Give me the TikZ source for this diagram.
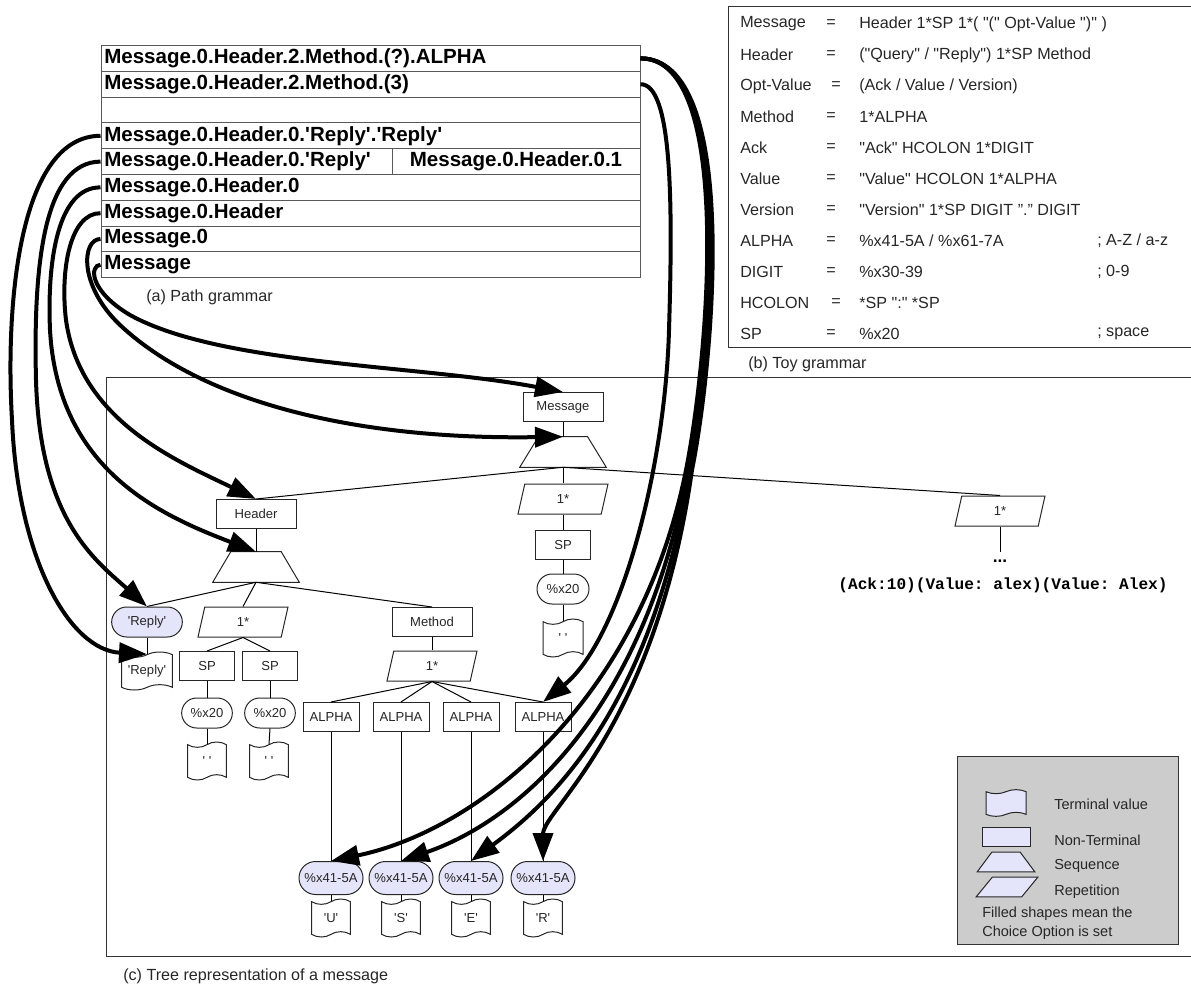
\documentclass[tikz,border=0pt]{standalone}
\usepackage{fontspec}
\setmainfont{Liberation Sans}[Ligatures=TeXOff]
\setmonofont{Liberation Mono}
\usetikzlibrary{shapes.geometric,shapes.misc,shapes.symbols,arrows.meta}
\definecolor{lav}{RGB}{228,228,250}
\definecolor{lgray}{RGB}{204,204,204}
\newcommand\trapz[3]{\draw[line width=0.75pt, draw=black!85, #3] (#1.south west) -- (#1.south east) -- ([xshift=-#2]#1.north east) -- ([xshift=#2]#1.north west) -- cycle;}
\newcommand\parlg[3]{\draw[line width=0.75pt, draw=black!85, #3] (#1.south west) -- ([xshift=-#2]#1.south east) -- (#1.north east) -- ([xshift=#2]#1.north west) -- cycle;}
\begin{document}
\begin{tikzpicture}[x=0.75pt,y=-0.75pt,
 tl/.style={draw=black, line width=0.75pt},
 tf/.style={font=\fontsize{9.8}{11}\selectfont, text=black!85},
 ntnode/.style={draw=black!85, line width=0.75pt, rectangle, tf, minimum width=#1, minimum height=21.75pt, inner sep=0pt},
 ntnode/.default=60pt,
 seqnode/.style={rectangle, minimum width=64.5pt, minimum height=22.5pt, inner sep=0pt},
 repnode/.style={draw=black!85, line width=0.75pt, trapezium, trapezium left angle=53, trapezium right angle=127, trapezium stretches body, minimum width=67.5pt, minimum height=22.5pt, inner sep=0pt, tf},
 pillnode/.style={draw=black!85, line width=0.75pt, rounded rectangle, tf, minimum width=#1, minimum height=22.5pt, inner sep=0pt},
 termnode/.style={draw=black!85, line width=0.75pt, tape, tape bend top=in and out, tape bend bottom=in and out, tape bend height=4pt, tf, minimum width=#1, minimum height=28.5pt, inner sep=0pt},
 bigarrow/.style={line width=3pt, -{Triangle[length=21pt,width=15pt]}},
 rowbox/.style={draw=gray!70!black, line width=0.75pt, minimum height=19.35pt, inner sep=0pt, minimum width=#1},
 rowtext/.style={font=\fontsize{15.4}{17}\selectfont\bfseries, inner sep=0pt, anchor=west},
 gtext/.style={font=\fontsize{12.1}{14}\selectfont, inner sep=0pt, anchor=west, text=black!85},
 legtext/.style={font=\fontsize{10.9}{13}\selectfont, inner sep=0pt, anchor=west, text=black!85},
]
\useasboundingbox (0,0) rectangle (1191,994);

% ---------- (a) path grammar ----------
\node[rowbox=404.25pt] (r1) at (370.5,58.4) {};
\node[rowbox=404.25pt] (r2) at (370.5,84.2) {};
\node[rowbox=404.25pt] (r3) at (370.5,110.0) {};
\node[rowbox=404.25pt] (r4) at (370.5,135.8) {};
\node[rowbox=218.25pt] (r5a) at (246.5,161.6) {};
\node[rowbox=186pt] (r5b) at (516,161.6) {};
\node[rowbox=404.25pt] (r6) at (370.5,187.4) {};
\node[rowbox=404.25pt] (r7) at (370.5,213.2) {};
\node[rowbox=404.25pt] (r8) at (370.5,239.0) {};
\node[rowbox=404.25pt] (r9) at (370.5,264.8) {};
\node[rowtext] (t1) at (104,58.4) {Message.0.Header.2.Method.(?).ALPHA};
\node[rowtext] (t2) at (104,84.2) {Message.0.Header.2.Method.(3)};
\node[rowtext] (t4) at (104,135.8) {Message.0.Header.0.'Reply'.'Reply'};
\node[rowtext] (t5a) at (104,161.6) {Message.0.Header.0.'Reply'};
\node[rowtext, anchor=center] (t5b) at (516,161.6) {Message.0.Header.0.1};
\node[rowtext] (t6) at (104,187.4) {Message.0.Header.0};
\node[rowtext] (t7) at (104,213.2) {Message.0.Header};
\node[rowtext] (t8) at (104,239.0) {Message.0};
\node[rowtext] (t9) at (104,264.8) {Message};
\node[gtext] (capa) at (146,297) {(a) Path grammar};

% ---------- (b) toy grammar ----------
\draw[line width=0.75pt, draw=black!80] (1193,7) -- (728,7) -- (728,348) -- (1193,348);
\node[gtext] (g1n) at (740,24) {Message};
\node[gtext] (g1e) at (826,24) {=};
\node[gtext] (g1d) at (859,24) {Header 1*SP 1*( "(" Opt-Value ")" )};
\node[gtext] (g2n) at (740,55) {Header};
\node[gtext] (g2e) at (826,55) {=};
\node[gtext] (g2d) at (859,55) {("Query" / "Reply") 1*SP Method};
\node[gtext] (g3n) at (740,86) {Opt-Value};
\node[gtext] (g3e) at (831,86) {=};
\node[gtext] (g3d) at (859,86) {(Ack / Value / Version)};
\node[gtext] (g4n) at (740,117) {Method};
\node[gtext] (g4e) at (826,117) {=};
\node[gtext] (g4d) at (859,117) {1*ALPHA};
\node[gtext] (g5n) at (740,148) {Ack};
\node[gtext] (g5e) at (826,148) {=};
\node[gtext] (g5d) at (859,148) {"Ack" HCOLON 1*DIGIT};
\node[gtext] (g6n) at (740,179) {Value};
\node[gtext] (g6e) at (826,179) {=};
\node[gtext] (g6d) at (859,179) {"Value" HCOLON 1*ALPHA};
\node[gtext] (g7n) at (740,210) {Version};
\node[gtext] (g7e) at (826,210) {=};
\node[gtext] (g7d) at (859,210) {"Version" 1*SP DIGIT ”.” DIGIT};
\node[gtext] (g8n) at (740,241) {ALPHA};
\node[gtext] (g8e) at (826,241) {=};
\node[gtext] (g8d) at (859,241) {\%x41-5A / \%x61-7A};
\node[gtext] (g8c) at (1097,241) {; A-Z / a-z};
\node[gtext] (g9n) at (740,272) {DIGIT};
\node[gtext] (g9e) at (826,272) {=};
\node[gtext] (g9d) at (859,272) {\%x30-39};
\node[gtext] (g9c) at (1097,272) {; 0-9};
\node[gtext] (g10n) at (740,303) {HCOLON};
\node[gtext] (g10e) at (831,303) {=};
\node[gtext] (g10d) at (859,303) {*SP ":" *SP};
\node[gtext] (g11n) at (740,334) {SP};
\node[gtext] (g11e) at (826,334) {=};
\node[gtext] (g11d) at (859,334) {\%x20};
\node[gtext] (g11c) at (1097,334) {; space};
\node[gtext] (capb) at (748,364) {(b) Toy grammar};

% ---------- (c) tree ----------
\draw[line width=0.75pt, draw=black!80] (1193,378) -- (106,378) -- (106,956) -- (1193,956);
\node[gtext] (capc) at (123,976) {(c) Tree representation of a message};

\node[ntnode] (msg) at (563,407) {Message};
\node[seqnode] (mseq) at (563,452) {};
\trapz{mseq}{14pt}{}
\node[repnode] (m1s) at (563,499) {1*};
\node[ntnode=41.25pt] (msp) at (563,545) {SP};
\node[pillnode=39pt] (mx20) at (563,589) {\%x20};
\node[termnode=30pt] (mtape) at (563,638) {' '};
\node[repnode] (far) at (1000,511) {1*};
\coordinate (farend) at (1000,552);
\node[font=\bfseries\fontsize{13}{14}\selectfont, inner sep=0pt] (dots) at (1000,561) {...};
\node[font=\ttfamily\bfseries\fontsize{12.1}{14}\selectfont, inner sep=0pt] (vals) at (1003,585) {(Ack:10)(Value: alex)(Value: Alex)};

\node[ntnode] (hdr) at (256,514) {Header};
\node[seqnode] (hseq) at (256,567) {};
\trapz{hseq}{13.5pt}{}
\node[pillnode=53pt, fill=lav] (rpill) at (147,622) {'Reply'};
\node[termnode=38pt] (rtape) at (147,671) {'Reply'};
\node[repnode] (h1s) at (243,622) {1*};
\node[ntnode=41.25pt] (sp1) at (207,666) {SP};
\node[ntnode=41.25pt] (sp2) at (270,666) {SP};
\node[pillnode=38pt] (xa) at (207,713) {\%x20};
\node[pillnode=38pt] (xb) at (270,713) {\%x20};
\node[termnode=29pt] (ta) at (207,761) {' '};
\node[termnode=29pt] (tb) at (269,761) {' '};
\node[ntnode] (meth) at (432,622) {Method};
\node[repnode] (m1) at (432,666) {1*};
\node[ntnode=42pt] (a1) at (331,717) {ALPHA};
\node[ntnode=42pt] (a2) at (401,717) {ALPHA};
\node[ntnode=42pt] (a3) at (471,717) {ALPHA};
\node[ntnode=42pt] (a4) at (543,717) {ALPHA};
\node[pillnode=48pt, fill=lav, minimum height=24.75pt] (h1) at (331,878) {\%x41-5A};
\node[pillnode=48pt, fill=lav, minimum height=24.75pt] (h2) at (401,878) {\%x41-5A};
\node[pillnode=48pt, fill=lav, minimum height=24.75pt] (h3) at (471,878) {\%x41-5A};
\node[pillnode=48pt, fill=lav, minimum height=24.75pt] (h4) at (543,878) {\%x41-5A};
\node[termnode=29pt] (u1) at (331,918) {'U'};
\node[termnode=29pt] (u2) at (401,918) {'S'};
\node[termnode=29pt] (u3) at (471,918) {'E'};
\node[termnode=29pt] (u4) at (543,918) {'R'};

% tree edges
\draw[tl] (msg.south) -- (mseq.north);
\draw[tl] (mseq.south) -- (hdr.north);
\draw[tl] (mseq.south) -- (m1s.center |- m1s.north);
\draw[tl] (mseq.south) -- (far.center |- far.north);
\draw[tl] (m1s.center |- m1s.south) -- (msp.north);
\draw[tl] (msp.south) -- (mx20.north);
\draw[tl] (mx20.south) -- (mtape.north);
\draw[tl] (far.center |- far.south) -- (farend);
\draw[tl] (hdr.south) -- (hseq.north);
\draw[tl] (hseq.south) -- (rpill.north);
\draw[tl] (hseq.south) -- (h1s.center |- h1s.north);
\draw[tl] (hseq.south) -- (meth.north);
\draw[tl] (rpill.south) -- (rtape.north);
\draw[tl] (h1s.center |- h1s.south) -- (sp1.north);
\draw[tl] (h1s.center |- h1s.south) -- (sp2.north);
\draw[tl] (sp1.south) -- (xa.north);
\draw[tl] (sp2.south) -- (xb.north);
\draw[tl] (xa.south) -- (ta.north);
\draw[tl] (xb.south) -- (tb.north);
\draw[tl] (meth.south) -- (m1.center |- m1.north);
\foreach \k in {1,2,3,4}{
  \draw[tl] (m1.center |- m1.south) -- (a\k.north);
  \draw[tl] (a\k.south) -- (h\k.north);
  \draw[tl] (h\k.south) -- (u\k.north);
}

% legend
\node[draw=black!80, fill=lgray, line width=0.75pt, minimum width=165.75pt, minimum height=141pt, inner sep=0pt] (legend) at (1067.5,850) {};
\node[termnode=30pt, fill=lav, minimum height=20pt, tape bend height=3pt] (lt) at (1006,803) {};
\node[draw=black!85, fill=lav, line width=0.75pt, minimum width=36pt, minimum height=14.25pt, inner sep=0pt] (lr) at (1006,837) {};
\node[rectangle, minimum width=42.75pt, minimum height=14.25pt, inner sep=0pt] (ls) at (1006,862) {};
\trapz{ls}{10.9pt}{fill=lav}
\node[rectangle, minimum width=45.75pt, minimum height=14.25pt, inner sep=0pt] (lp) at (1007,887) {};
\parlg{lp}{12pt}{fill=lav}
\node[legtext] (ltt) at (1054,804) {Terminal value};
\node[legtext] (lrt) at (1054,840) {Non-Terminal};
\node[legtext] (lst) at (1054,866) {Sequence};
\node[legtext] (lpt) at (1054,892) {Repetition};
\node[legtext] (lf1) at (982,914) {Filled shapes mean the};
\node[legtext] (lf2) at (982,933) {Choice Option is set};

% big arrows, left side
\draw[bigarrow] (r4.west) .. controls (20,136) and (5,300) .. (12,420) .. controls (18,560) and (70,650) .. (rtape.north);
\draw[bigarrow] (r5a.west) .. controls (45,162) and (33,260) .. (36,380) .. controls (40,520) and (95,560) .. (rpill.north);
\draw[bigarrow] (r6.west) .. controls (58,187) and (47,260) .. (50,330) .. controls (58,470) and (160,515) .. (hseq.north);
\draw[bigarrow] (r7.west) .. controls (70,213) and (60,270) .. (66,320) .. controls (80,420) and (175,460) .. (hdr.north);
\draw[bigarrow] (r8.west) .. controls (82,239) and (78,285) .. (120,325) .. controls (200,400) and (350,440) .. (mseq.north);
\draw[bigarrow] (r9.west) .. controls (90,265) and (88,290) .. (130,315) .. controls (220,365) and (420,365) .. (msg.north);

% big arrows, right side
\draw[bigarrow] (r2.east) .. controls (672,84) and (673,200) .. (669,330) .. controls (665,470) and (620,640) .. (a4.north);
\draw[bigarrow] (r1.east) .. controls (735,58) and (708,360) .. (686,470) .. controls (640,700) and (480,830) .. (h1.north);
\draw[bigarrow] (r1.east) .. controls (737,58) and (710,360) .. (688,470) .. controls (645,710) and (520,820) .. (h2.north);
\draw[bigarrow] (r1.east) .. controls (739,58) and (712,360) .. (690,470) .. controls (650,720) and (540,810) .. (h3.north);
\draw[bigarrow] (r1.east) .. controls (741,58) and (714,360) .. (692,470) .. controls (655,730) and (543,810) .. (h4.north);
\end{tikzpicture}
\end{document}
